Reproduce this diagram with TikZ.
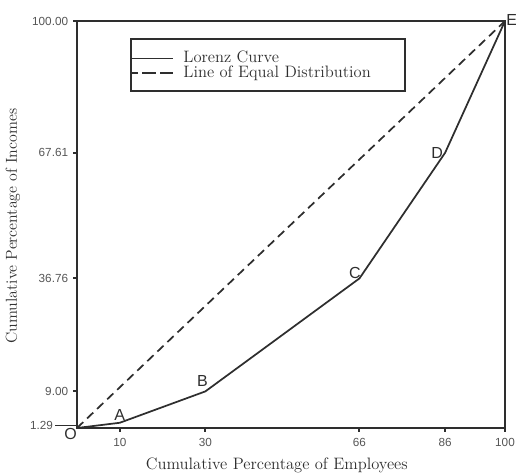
\documentclass[tikz,border=0pt]{standalone}
\usepackage{fontspec}
\usepackage{tikz}
\usetikzlibrary{positioning}
\usepackage{xcolor}
\newfontfamily\tickfont{Liberation Sans}
\definecolor{ink}{HTML}{2E2E2E}
\definecolor{tickgray}{HTML}{555555}

\tikzset{
  axis/.style={ink,line width=1.5pt},
  lorenz/.style={ink,line width=1.3pt},
  equal/.style={ink,line width=1.3pt,dash pattern=on 6.4pt off 4pt},
  ticklab/.style={text=tickgray,font=\tickfont\fontsize{8.8}{10}\selectfont,inner sep=0pt},
  ptlab/.style={text=ink,font=\tickfont\fontsize{12}{14}\selectfont,inner sep=0.8pt},
  axlab/.style={text=ink,font=\fontsize{12.4}{14}\selectfont,inner sep=0pt},
  legtext/.style={text=ink,font=\fontsize{12.4}{14}\selectfont,inner sep=0pt,anchor=west,
    text height=8pt,text depth=1.5pt}
}

\begin{document}
\begin{tikzpicture}[x=3.21pt,y=3.0525pt]
 \useasboundingbox (-17.99,-11.30) rectangle (102.57,105.16);
  % points of the curve
  \coordinate (O) at (0,0);
  \coordinate (A) at (10,1.29);
  \coordinate (B) at (30,9);
  \coordinate (C) at (66,36.76);
  \coordinate (D) at (86,67.61);
  \coordinate (E) at (100,100);
  \draw[axis] (O) rectangle (E);
  \draw[equal] (O) -- (E);
  \draw[lorenz] (O) -- (A) -- (B) -- (C) -- (D) -- (E);

\node[ptlab,anchor=north east,inner sep=0pt] (lO) at (O) {O};
\node[ptlab,above=0.3 of A] (lA) {A};
\node[ptlab,above left=0.9 and -0.9 of B] (lB) {B};
\node[ptlab,above left=-0.3 and -0.6 of C] (lC) {C};
\node[ptlab,left=0.2 of D] (lD) {D};
\node[ptlab,anchor=south west] (lE) at ([yshift=-4pt]E) {E};

 % x ticks
	\draw[axis] (10,0) -- ++(0,-1) node[ticklab,below=1.2] (x10) {10};
	\draw[axis] (30,0) -- ++(0,-1) node[ticklab,below=1.2] (x30) {30};
	\draw[axis] (66,0) -- ++(0,-1) node[ticklab,below=1.2] (x66) {66};
	\draw[axis] (86,0) -- ++(0,-1) node[ticklab,below=1.2] (x86) {86};
	\draw[axis] (100,0) -- ++(0,-1) node[ticklab,below=1.2] (x100) {100};
 % y ticks
	\draw[axis] (0,100) -- ++(-0.95,0) node[ticklab,left=0.9] (y100) {100.00};
	\draw[axis] (0,67.61) -- ++(-0.95,0) node[ticklab,left=0.9] (y67) {67.61};
	\draw[axis] (0,36.76) -- ++(-0.95,0) node[ticklab,left=0.9] (y36) {36.76};
	\draw[axis] (0,9) -- ++(-0.95,0) node[ticklab,left=0.9] (y9) {9.00};
	\draw[axis,line width=0.8pt] (0,0.6) -- ++(-5.1,0) node[ticklab,left=0.4] (y1) {1.29};

\node[axlab] (xlab) at (46.7,-9.3) {Cumulative Percentage of Employees};
\node[axlab,rotate=90,font=\fontsize{11.9}{14}\selectfont] (ylab) at (-14.95,49.6) {Cumulative Percentage of Incomes};

 % legend
\draw[axis,line width=1.3pt] (12.6,82.8) rectangle (76.6,95.6);
\node[legtext] (legL) at (24.8,90.8) {Lorenz Curve};
\node[legtext] (legE) at (24.8,87.2) {Line of Equal Distribution};
\draw[lorenz] (12.6,90.8) -- (22.4,90.8);
\draw[lorenz,dash pattern=on 10pt off 3pt] (22.4,87.2) -- (12.6,87.2);
\end{tikzpicture}
\end{document}
